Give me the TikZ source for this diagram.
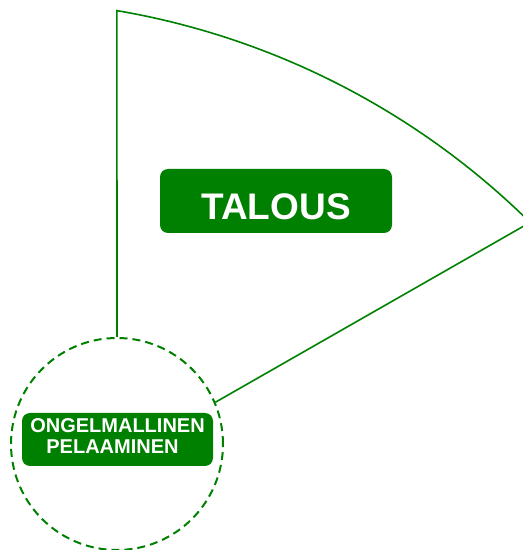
\documentclass[tikz,border=0pt]{standalone}
\usepackage{fontspec}
\setmainfont{Liberation Sans}
\usetikzlibrary{calc}
\definecolor{leaf}{HTML}{008000}

\begin{document}
\begin{tikzpicture}[x=1pt, y=1pt,
		tag/.style={fill=leaf, text=white, rounded corners=8pt, align=center, inner sep=0pt}]
			\useasboundingbox (0,0) rectangle (523,550);
			\clip (0,0) rectangle (523,550);
			% the wedge bends round a far-off hub
			\coordinate (hub) at (-13,-223);
			\coordinate (top) at ($(hub)+(80.33:773.4)$);
			\coordinate (tip) at ($(hub)+(45.39:773.4)$);
			\node[circle, draw=leaf, line width=2pt, dash pattern=on 8pt off 5pt,
				minimum size=212pt, inner sep=0pt] (ring) at (117,106) {};
			\node[tag, minimum width=232pt, minimum height=64pt, text height=37pt,
				font=\bfseries\fontsize{37}{40}\selectfont] (talous) at (276,349) {TALOUS};
			\node[tag, minimum width=191pt, minimum height=53pt, text depth=7pt,
				font=\bfseries\fontsize{20}{21}\selectfont] (peli) at (117.5,110.5)
				{ONGELMALLINEN\\PELAAMINEN\hspace*{10pt}};
			\draw[leaf, line width=1.6pt] (ring.north) -- (top)
				arc[start angle=80.33, end angle=45.39, radius=773.4] -- (ring.23);
		\end{tikzpicture}
\end{document}
